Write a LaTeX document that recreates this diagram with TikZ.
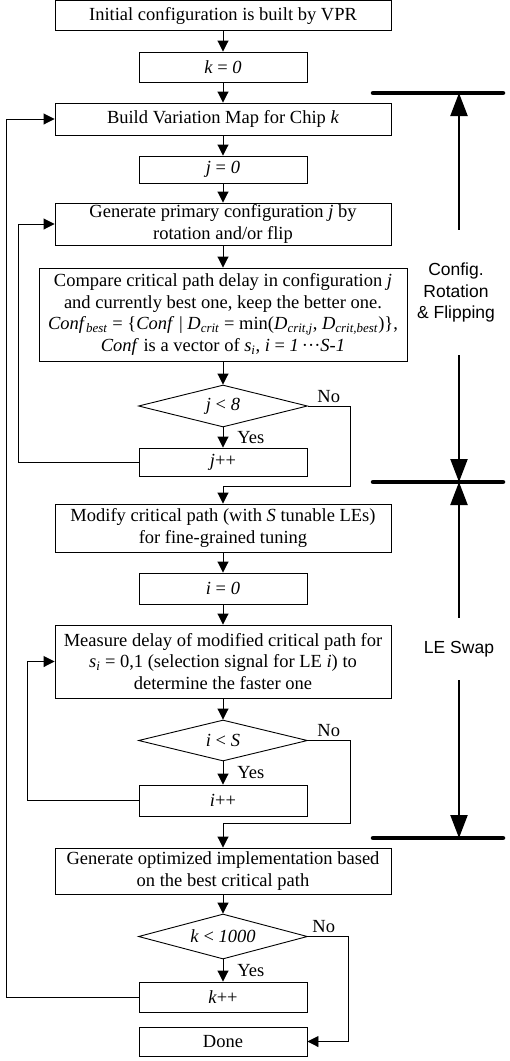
\documentclass[tikz,border=0pt]{standalone}
\usepackage{fontspec}
\setmainfont{Liberation Serif}
\setsansfont{Liberation Sans}
\usetikzlibrary{arrows.meta, shapes.geometric}

\begin{document}
\begin{tikzpicture}[x=1pt, y=-1pt,
    every node/.style={font=\fontsize{18.5}{21.7}\selectfont},
    box/.style={rectangle, draw, line width=0.9pt, inner sep=1pt, align=center, minimum width=336pt},
    sbox/.style={box, minimum width=168pt},
    cond/.style={diamond, draw, line width=0.9pt, aspect=4, inner sep=0pt, minimum width=169pt},
    side/.style={align=center, font=\sffamily\fontsize{17.5}{21.7}\selectfont},
    lbl/.style={inner sep=1pt},
    arrow/.style={-{Triangle[length=11pt, width=11pt]}, line width=0.9pt},
    bigarrow/.style={-{Triangle[length=23pt, width=17pt]}, line width=2.2pt},
    bar/.style={line width=4.5pt, line cap=round}]

  \useasboundingbox (0,0) rectangle (510,1061);

  \node[box, minimum height=30pt]  (init)  at (223,15.5)   {Initial configuration is built by VPR};
  \node[sbox, minimum height=30pt] (k0)    at (223,67)     {\textit{k} = \textit{0}};
  \node[box, minimum height=32pt]  (build) at (223,119)    {Build Variation Map for Chip \textit{k}};
  \node[sbox, minimum height=27pt] (j0)    at (223,169.5)  {\textit{j} = \textit{0}};
  \node[box, minimum height=42pt]  (gen)   at (223,224)    {Generate primary configuration \textit{j} by\\rotation and/or flip};
  \node[box, minimum width=368pt, minimum height=93pt] (cmp) at (223,314.5)
    {Compare critical path delay in configuration \textit{j}\\and currently best one, keep the better one.\\\textit{Conf}\textsubscript{\textit{best}} = \{\textit{Conf} | \textit{D}\textsubscript{\textit{crit}} = min(\textit{D}\textsubscript{\textit{crit,j}}, \textit{D}\textsubscript{\textit{crit,best}})\},\\\textit{Conf} is a vector of \textit{s}\textsubscript{\textit{i}}, \textit{i} = \textit{1}\,···\textit{S-1}};
  \node[cond, minimum height=42pt] (dj)    at (223,406)    {\textit{j} < \textit{8}};
  \node[sbox, minimum height=28pt] (jinc)  at (223,462)    {\textit{j}++};
  \node[box, minimum height=48pt]  (mod)   at (223,528)    {Modify critical path (with \textit{S} tunable LEs)\\for fine-grained tuning};
  \node[sbox, minimum height=31pt] (i0)    at (223,588.5)  {\textit{i} = \textit{0}};
  \node[box, minimum height=73pt]  (meas)  at (223,661.5)  {Measure delay of modified critical path for\\\textit{s}\textsubscript{\textit{i}} = 0,1 (selection signal for LE \textit{i}) to\\determine the faster one};
  \node[cond, minimum height=41pt] (di)    at (223,740.5)  {\textit{i} < \textit{S}};
  \node[sbox, minimum height=31pt] (iinc)  at (223,800.5)  {\textit{i}++};
  \node[box, minimum height=46pt]  (opt)   at (223,871)    {Generate optimized implementation based\\on the best critical path};
  \node[cond, minimum height=45pt] (dk)    at (223,936.5)  {\textit{k} < \textit{1000}};
  \node[sbox, minimum height=30pt] (kinc)  at (223,997)    {\textit{k}++};
  \node[sbox, minimum height=29pt] (done)  at (223,1041.5) {Done};

  \draw[arrow] (init) -- (k0);
  \draw[arrow] (k0) -- (build);
  \draw[arrow] (build) -- (j0);
  \draw[arrow] (j0) -- (gen);
  \draw[arrow] (gen) -- (cmp);
  \draw[arrow] (cmp) -- (dj);
  \draw[arrow] (dj) -- node[lbl, right=13pt]{Yes} (jinc);
  \draw[arrow] (dj.east) node[lbl, anchor=south west, xshift=8pt, yshift=2pt]{No} -- ++(42,0) |- ([yshift=17pt]mod.north) -- (mod.north);
  \draw[arrow] (jinc.west) -| ([xshift=-36pt]gen.west) -- (gen.west);
  \draw[arrow] (mod) -- (i0);
  \draw[arrow] (i0) -- (meas);
  \draw[arrow] (meas) -- (di);
  \draw[arrow] (di) -- node[lbl, right=13pt]{Yes} (iinc);
  \draw[arrow] (di.east) node[lbl, anchor=south west, xshift=8pt, yshift=2pt]{No} -- ++(42,0) |- ([yshift=24pt]opt.north) -- (opt.north);
  \draw[arrow] (iinc.west) -| ([xshift=-27pt]meas.west) -- (meas.west);
  \draw[arrow] (opt) -- (dk);
  \draw[arrow] (dk) -- node[lbl, right=13pt]{Yes} (kinc);
  \draw[arrow] (dk.east) node[lbl, anchor=south west, xshift=3pt, yshift=2pt]{No} -- ++(40,0) |- (done.east);
  \draw[arrow] (kinc.west) -| ([xshift=-48pt]build.west) -- (build.west);

  \coordinate (b1) at (459,93);
  \coordinate (b2) at (459,482);
  \coordinate (b3) at (459,838);
  \node[side, minimum height=125pt] (cfg)  at (456,292.5) {Config.\\Rotation\\\& Flipping};
  \node[side, minimum height=62pt]  (swap) at (459,649)   {LE Swap};

  \draw[bigarrow] (cfg.north -| b1) -- (b1);
  \draw[bigarrow] (cfg.south -| b1) -- (b2);
  \draw[bigarrow] (swap.north) -- (b2);
  \draw[bigarrow] (swap.south) -- (b3);
  \foreach \b in {b1,b2,b3}
    \draw[bar] ([xshift=-86pt]\b) -- ([xshift=44pt]\b);
\end{tikzpicture}
\end{document}
